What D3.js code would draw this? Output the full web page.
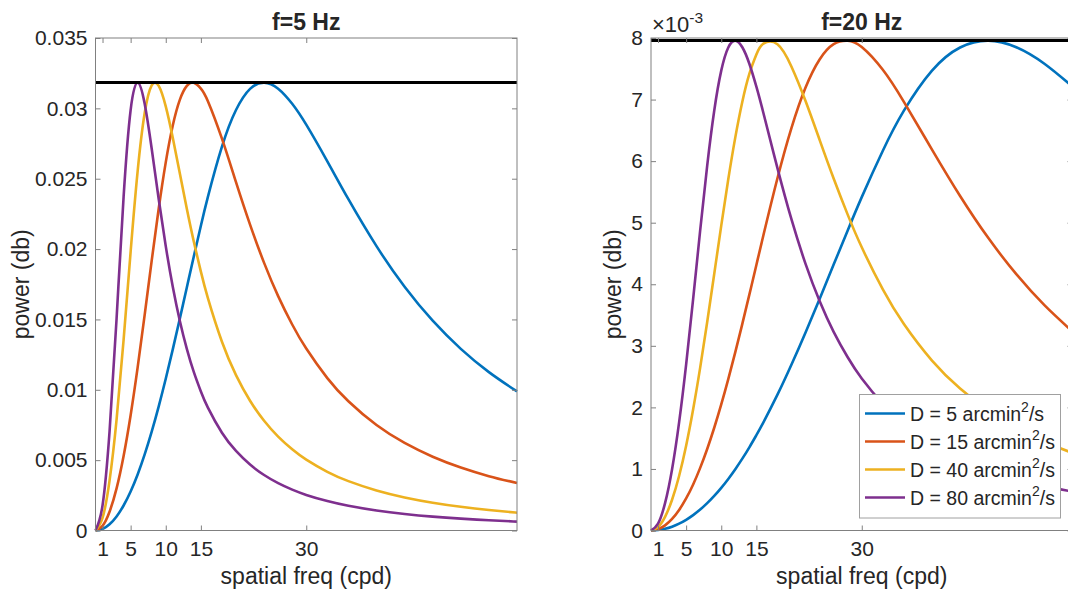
<!DOCTYPE html>
<html>
<head>
<meta charset="utf-8">
<script src="https://cdn.jsdelivr.net/npm/d3@7"></script>
<style>
  html, body { margin: 0; padding: 0; background: #fff; }
  svg { display: block; }
  text { font-family: "Liberation Sans", Arial, Helvetica, sans-serif; fill: #262626; }
</style>
</head>
<body>
<svg id="chart" width="1068" height="593"></svg>
<script>
// Spatial frequency samples (cycles per degree)
const spatialFreq = [0, 1, 2, 3, 4, 5, 6, 7, 8, 9, 10, 11, 12, 13, 14, 15, 16,
  18, 20, 22, 24, 26, 28, 30, 33, 36, 40, 44, 48, 52, 56, 60];

// Diffusion constants (arcmin^2/s) and their line colours
const diffusion = [5, 15, 40, 80];
const seriesColors = ["#0072BD", "#D95319", "#EDB120", "#7E2F8E"];

// Power at f = 5 Hz
const power5_D5 = [0, 0.000111, 0.000444, 0.001000, 0.001776, 0.002773, 0.003984, 0.005405,
  0.007024, 0.008824, 0.010783, 0.012871, 0.015049, 0.017275, 0.019496, 0.021660, 0.023711,
  0.027278, 0.029881, 0.031383, 0.031831, 0.031401, 0.030328, 0.028840, 0.026233, 0.023543,
  0.020206, 0.017323, 0.014909, 0.012910, 0.011255, 0.009882];
const power5_D15 = [0, 0.000333, 0.001333, 0.002993, 0.005296, 0.008193, 0.011588, 0.015325,
  0.019180, 0.022884, 0.026161, 0.028781, 0.030603, 0.031594, 0.031820, 0.031408, 0.030512,
  0.027850, 0.024753, 0.021736, 0.019018, 0.016657, 0.014640, 0.012928, 0.010832, 0.009182,
  0.007492, 0.006220, 0.005241, 0.004474, 0.003863, 0.003368];
const power5_D40 = [0, 0.000889, 0.003545, 0.007876, 0.013546, 0.019809, 0.025546, 0.029668,
  0.031631, 0.031591, 0.030136, 0.027905, 0.025384, 0.022872, 0.020522, 0.018400, 0.016518,
  0.013417, 0.011045, 0.009219, 0.007795, 0.006670, 0.005768, 0.005034, 0.004169, 0.003507,
  0.002844, 0.002352, 0.001977, 0.001685, 0.001453, 0.001266];
const power5_D80 = [0, 0.001776, 0.007024, 0.015049, 0.023711, 0.029881, 0.031831, 0.030328,
  0.027128, 0.023543, 0.020206, 0.017323, 0.014909, 0.012910, 0.011255, 0.009882, 0.008734,
  0.006951, 0.005654, 0.004685, 0.003943, 0.003363, 0.002902, 0.002529, 0.002091, 0.001758,
  0.001424, 0.001177, 0.000989, 0.000843, 0.000727, 0.000633];

// Power at f = 20 Hz, in units of 1e-3
const power20_D5 = [0, 0.007, 0.028, 0.062, 0.111, 0.174, 0.250, 0.340, 0.444, 0.562, 0.693,
  0.838, 0.996, 1.167, 1.351, 1.548, 1.756, 2.206, 2.696, 3.218, 3.762, 4.319, 4.874, 5.415,
  6.169, 6.819, 7.470, 7.846, 7.958, 7.850, 7.582, 7.210];
const power20_D15 = [0, 0.021, 0.083, 0.187, 0.333, 0.520, 0.748, 1.017, 1.324, 1.669, 2.048,
  2.459, 2.897, 3.357, 3.831, 4.313, 4.795, 5.721, 6.540, 7.195, 7.651, 7.899, 7.955, 7.852,
  7.483, 6.962, 6.188, 5.434, 4.754, 4.164, 3.660, 3.232];
const power20_D40 = [0, 0.056, 0.222, 0.500, 0.886, 1.378, 1.969, 2.645, 3.387, 4.167, 4.952,
  5.705, 6.386, 6.965, 7.417, 7.731, 7.908, 7.898, 7.534, 6.976, 6.346, 5.718, 5.131, 4.600,
  3.916, 3.354, 2.761, 2.305, 1.949, 1.667, 1.442, 1.259];
const power20_D80 = [0, 0.111, 0.444, 0.996, 1.756, 2.696, 3.762, 4.874, 5.928, 6.819, 7.470,
  7.846, 7.958, 7.850, 7.582, 7.210, 6.782, 5.886, 5.052, 4.331, 3.727, 3.227, 2.814, 2.470,
  2.058, 1.738, 1.413, 1.171, 0.986, 0.841, 0.725, 0.632];

// Peak power levels (horizontal reference lines)
const peak5 = 0.031831;
const peak20 = 7.9577; // x 1e-3

// Axis ticks
const xTicks = [1, 5, 10, 15, 30];
const yTicks5 = [0, 0.005, 0.01, 0.015, 0.02, 0.025, 0.03, 0.035];
const yTickLabels5 = ["0", "0.005", "0.01", "0.015", "0.02", "0.025", "0.03", "0.035"];
const yTicks20 = [0, 1, 2, 3, 4, 5, 6, 7, 8];
const yTickLabels20 = ["0", "1", "2", "3", "4", "5", "6", "7", "8"];

const svg = d3.select("#chart");
svg.append("rect").attr("width", 1068).attr("height", 593).attr("fill", "#fff");

const AXIS_COLOR = "#808080";
const TICK_LEN = 5;
const TICK_FONT = "21px";
const LABEL_FONT = "23px";

function drawPanel(p) {
  const x = d3.scaleLinear().domain([0, 60]).range([p.left, p.right]);
  const y = d3.scaleLinear().domain([0, p.ymax]).range([p.bottom, p.top]);
  const g = svg.append("g");

  // curves
  const line = d3.line()
    .x((d, i) => x(spatialFreq[i]))
    .y(d => y(d))
    .curve(d3.curveNatural);
  p.series.forEach((vals, i) => {
    g.append("path")
      .attr("d", line(vals))
      .attr("fill", "none")
      .attr("stroke", seriesColors[i])
      .attr("stroke-width", 2.6)
      .attr("stroke-linejoin", "round");
  });

  // peak reference line
  g.append("line")
    .attr("x1", x(0)).attr("x2", x(60))
    .attr("y1", y(p.peak)).attr("y2", y(p.peak))
    .attr("stroke", "#000").attr("stroke-width", 3);

  // frame
  g.append("rect")
    .attr("x", p.left).attr("y", p.top)
    .attr("width", p.right - p.left).attr("height", p.bottom - p.top)
    .attr("fill", "none").attr("stroke", AXIS_COLOR).attr("stroke-width", 1);

  // axes with inward ticks
  const styleAxis = sel => {
    sel.select(".domain").remove();
    sel.selectAll(".tick line").attr("stroke", AXIS_COLOR);
    sel.selectAll(".tick text")
      .attr("fill", "#262626")
      .style("font-family", '"Liberation Sans", Arial, sans-serif')
      .style("font-size", TICK_FONT);
  };
  g.append("g").attr("transform", `translate(0,${p.bottom})`)
    .call(d3.axisBottom(x).tickValues(xTicks).tickSizeInner(-TICK_LEN).tickSizeOuter(0).tickPadding(11))
    .call(styleAxis);
  g.append("g").attr("transform", `translate(0,${p.top})`)
    .call(d3.axisTop(x).tickValues(xTicks).tickSizeInner(-TICK_LEN).tickSizeOuter(0).tickFormat(""))
    .call(styleAxis);
  g.append("g").attr("transform", `translate(${p.left},0)`)
    .call(d3.axisLeft(y).tickValues(p.yTicks).tickFormat((d, i) => p.yLabels[i])
      .tickSizeInner(-TICK_LEN).tickSizeOuter(0).tickPadding(8))
    .call(styleAxis);
  g.append("g").attr("transform", `translate(${p.right},0)`)
    .call(d3.axisRight(y).tickValues(p.yTicks).tickSizeInner(-TICK_LEN).tickSizeOuter(0).tickFormat(""))
    .call(styleAxis);

  // title
  g.append("text")
    .attr("x", (p.left + p.right) / 2).attr("y", 30)
    .attr("text-anchor", "middle")
    .style("font-size", LABEL_FONT).style("font-weight", "bold")
    .attr("fill", "#000")
    .text(p.title);

  // axis labels
  g.append("text")
    .attr("x", (p.left + p.right) / 2).attr("y", 584)
    .attr("text-anchor", "middle")
    .style("font-size", LABEL_FONT)
    .text("spatial freq (cpd)");
  g.append("text")
    .attr("transform", `translate(${p.ylabelX},${(p.top + p.bottom) / 2}) rotate(-90)`)
    .attr("text-anchor", "middle")
    .style("font-size", LABEL_FONT)
    .text("power (db)");

  return { x, y, g };
}

drawPanel({
  left: 95.5, right: 517, top: 38, bottom: 530.5,
  ymax: 0.035, yTicks: yTicks5, yLabels: yTickLabels5,
  title: "f=5 Hz", peak: peak5, ylabelX: 28.5,
  series: [power5_D5, power5_D15, power5_D40, power5_D80]
});

drawPanel({
  left: 651, right: 1072.5, top: 38, bottom: 530.5,
  ymax: 8, yTicks: yTicks20, yLabels: yTickLabels20,
  title: "f=20 Hz", peak: peak20, ylabelX: 621,
  series: [power20_D5, power20_D15, power20_D40, power20_D80]
});

// exponent label for the 20 Hz axis
const expo = svg.append("text").attr("x", 652).attr("y", 32).style("font-size", "22px");
expo.append("tspan").text("\u00d710");
expo.append("tspan").attr("dy", -9).style("font-size", "15.5px").text("-3");

// legend
const legend = svg.append("g");
legend.append("rect")
  .attr("x", 859.5).attr("y", 394.5).attr("width", 201).attr("height", 123.5)
  .attr("fill", "#fff").attr("stroke", "#a0a0a0").attr("stroke-width", 1);
diffusion.forEach((d, i) => {
  const cy = 413.5 + i * 28;
  legend.append("line")
    .attr("x1", 865).attr("x2", 905).attr("y1", cy).attr("y2", cy)
    .attr("stroke", seriesColors[i]).attr("stroke-width", 2.6);
  const t = legend.append("text")
    .attr("x", 910).attr("y", cy + 7)
    .style("font-size", "19.5px");
  t.append("tspan").text(`D = ${d} arcmin`);
  t.append("tspan").attr("dy", -8.5).style("font-size", "14px").text("2");
  t.append("tspan").attr("dy", 8.5).text("/s");
});
</script>
</body>
</html>
